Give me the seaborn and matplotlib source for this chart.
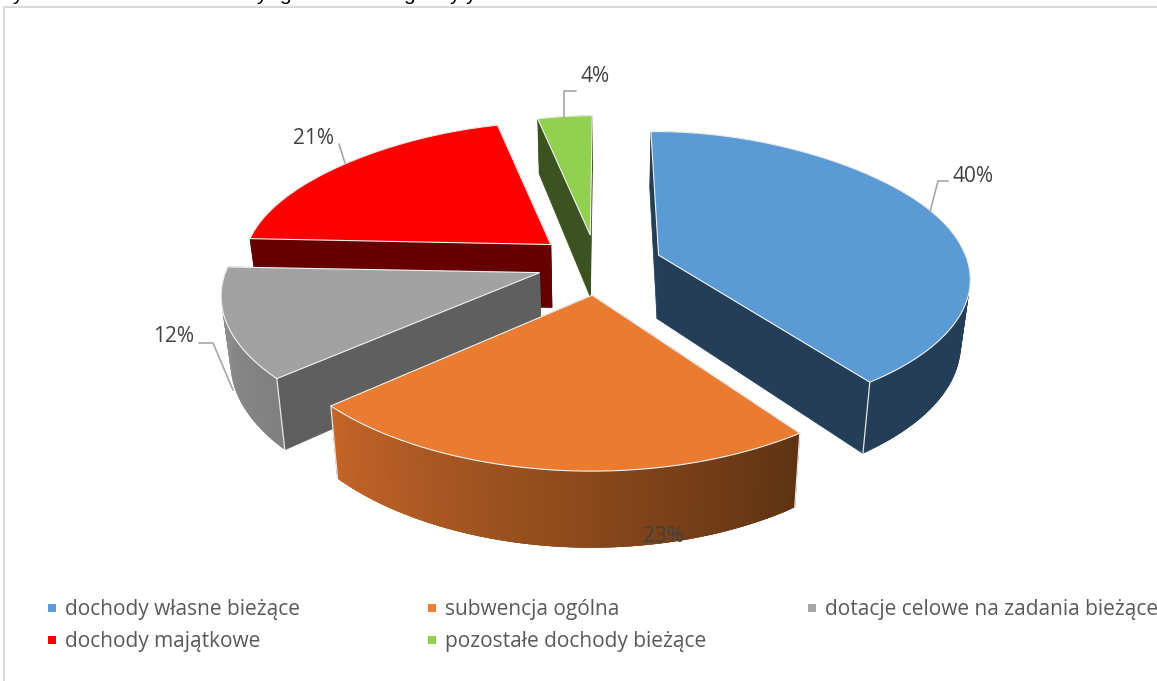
import matplotlib
matplotlib.use("Agg")
import matplotlib.pyplot as plt
import numpy as np
import seaborn as sns

# %%
categories = ["dochody własne bieżące", "subwencja ogólna", "dotacje celowe na zadania bieżące",
              "dochody majątkowe", "pozostałe dochody bieżące"]
shares = [40, 23.4, 11.6, 21, 4]
top_colors = ["#5b9bd5", "#e97c30", "#a2a2a2", "#ff0000", "#92d050"]
side_colors = ["#243e57", "#5f3312", "#5f5f5f", "#660000", "#3b5320"]
rim_light = ["#243e57", "#c46528", "#8f8f8f", "#660000", "#3b5320"]
rim_dark = ["#243e57", "#5f3312", "#808080", "#660000", "#3b5320"]
legend_colors = ["#5b9bd5", "#ed7d31", "#a5a5a5", "#ff0000", "#92d050"]

# layout, pixels of the picture
explode = [0.22, 0.20, 0.19, 0.19, 0.21]
nudge = [(0, 0), (4, 1), (0, -2), (1, -4), (3, -1)]
lean = [8, 0, 0, -8, 0]
draw_order = [4, 3, 0, 2, 1]
label_xy = [(973, 177), (663, 537), (174, 337), (314, 139), (595, 77)]
leaders = [[(930, 212), (938, 181), (948, 181)], None, [(199, 343), (213, 343), (233, 390)],
           [(339, 144), (345, 163)], [(564, 118), (564, 91), (576, 91)]]
legend_xy = [(52, 608), (432, 608), (812, 608), (52, 640), (432, 640)]
cut_off_xy = [(17, "y"), (261, "y"), (285, "g"), (409, "g"), (454, "y"), (470, "y")]

CX, CY = 595, 265
A, B = 308, 143
DEPTH = 64


def project(x, y, drop=0.0):
    # flat pie coordinates to picture, y runs towards the viewer
    sx = 1 + 0.1935 * y - 0.0435 * y * y
    sy = 1 / (1 - 0.137 * y)
    px = A * x * sx
    py = CY + B * y * sy + drop * DEPTH * sy - 4.5 * x * x * np.clip(1 - y, 0, 1)
    if drop:
        px = px * 0.975
    return CX + px, py


sns.set_theme(style="white")
plt.rcParams["font.family"] = ["Open Sans", "DejaVu Sans"]
fig, ax = plt.subplots(figsize=(11.57, 6.81), dpi=100)
ax.set_position([0, 0, 1, 1])
ax.set_xlim(0, 1157)
ax.set_ylim(681, 0)
ax.axis("off")

# chart frame, open to the right and below
ax.plot([4, 4, 1157], [681, 7, 7], color="#d9d9d9", lw=1.5, solid_capstyle="butt")

edges = np.concatenate([[0], np.cumsum(shares)]) / sum(shares) * 2 * np.pi

for i in draw_order:
    t0, t1 = edges[i], edges[i + 1]
    mid = (t0 + t1) / 2
    ox, oy = explode[i] * np.sin(mid), -explode[i] * np.cos(mid)
    theta = np.linspace(t0, t1, 90)
    rx, ry = ox + np.sin(theta), oy - np.cos(theta)
    dx, dy = nudge[i]
    shift = lean[i] * np.maximum(oy - ry, 0)
    top_x, top_y = project(rx, ry)
    bot_x, bot_y = project(rx, ry, 1.0)
    top_x, bot_x = top_x + dx + shift, bot_x + dx + shift
    top_y, bot_y = top_y + dy, bot_y + dy
    ax_x, ax_y = project(ox, oy)
    axb_x, axb_y = project(ox, oy, 1.0)
    ax_x, axb_x, ax_y, axb_y = ax_x + dx, axb_x + dx, ax_y + dy, axb_y + dy

    # radial walls
    for j in (0, -1):
        ax.fill([ax_x, top_x[j], bot_x[j], axb_x], [ax_y, top_y[j], bot_y[j], axb_y],
                color=side_colors[i], lw=0.5, zorder=2)

    # rim wall, shaded from the left; quads overlap so no seams show
    order = np.argsort(top_x)
    shades = sns.blend_palette([rim_light[i], rim_dark[i]], len(theta))
    rank = np.empty(len(theta), dtype=int)
    rank[order] = np.arange(len(theta))
    for j in range(len(theta) - 1):
        k = min(j + 3, len(theta) - 1)
        ax.fill([top_x[j], top_x[k], bot_x[k], bot_x[j]],
                [top_y[j], top_y[k], bot_y[k], bot_y[j]],
                color=shades[rank[j]], lw=0, zorder=2)

    # white edges on the wall corners
    for j in (0, -1):
        if top_y[j] > ax_y:
            ax.plot([top_x[j], bot_x[j]], [top_y[j], bot_y[j]], color="#e6e6e6", lw=0.9, zorder=2)

    ax.fill(np.r_[ax_x, top_x], np.r_[ax_y, top_y], facecolor=top_colors[i],
            edgecolor="#f2f2f2", lw=0.8, zorder=2, joinstyle="miter")

for i, value in enumerate(shares):
    ax.text(*label_xy[i], f"{value:.0f}%", fontsize=15, color="#404040", ha="center", va="center", zorder=5)
    if leaders[i]:
        xs, ys = zip(*leaders[i])
        ax.plot(xs, ys, color="#a6a6a6", lw=1.2, zorder=4)

for name, color, (x, y) in zip(categories, legend_colors, legend_xy):
    ax.scatter([x], [y], marker="s", s=30, color=color, lw=0, zorder=5)
    ax.text(x + 13, y + 1.5, name, fontsize=15, color="#595959", va="center", ha="left", clip_on=False)

# descenders of the line above the picture
for x, letter in cut_off_xy:
    ax.text(x, 0, letter, fontsize=15, color="black", ha="center", va="baseline",
            family=["Liberation Sans"], clip_on=True)

fig.savefig("out.png", dpi=100)
